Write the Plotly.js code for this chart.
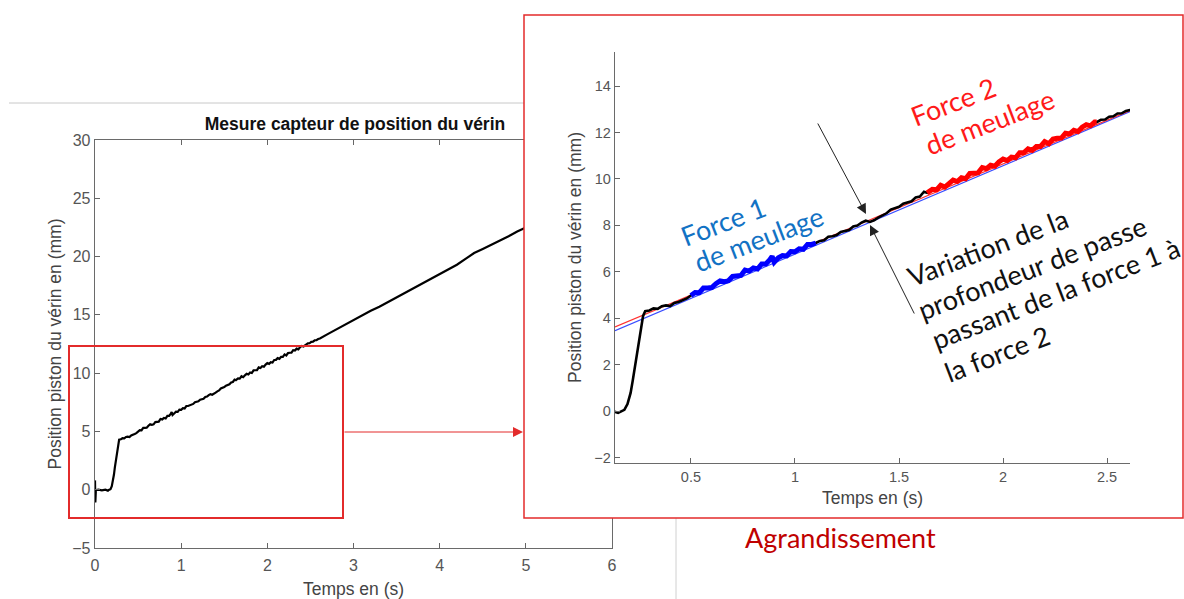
<!DOCTYPE html>
<html>
<head>
<meta charset="utf-8">
<script src="https://cdn.plot.ly/plotly-3.0.1.min.js"></script>
<style>html,body{margin:0;padding:0;background:#fff;}#chart{width:1184px;height:599px;}</style>
</head>
<body>
<div id="chart"></div>
<script>
const T = [0, 0.004, 0.01, 0.04, 0.08, 0.12, 0.15, 0.165, 0.18, 0.195, 0.21, 0.22, 0.23, 0.24, 0.25, 0.26, 0.27, 0.28,
  0.30, 0.32, 0.34, 0.36, 0.38, 0.40, 0.42, 0.44, 0.46, 0.48, 0.50,
  0.52, 0.54, 0.56, 0.58, 0.60, 0.62, 0.64, 0.66, 0.68, 0.70, 0.72, 0.74, 0.76, 0.78, 0.80, 0.82, 0.84, 0.86, 0.88, 0.89, 0.90,
  0.92, 0.94, 0.96, 0.98, 1.00, 1.02, 1.04, 1.06, 1.08, 1.10,
  1.12, 1.14, 1.16, 1.18, 1.20, 1.22, 1.24, 1.26, 1.28, 1.30, 1.32, 1.34, 1.36, 1.38, 1.40, 1.42, 1.44, 1.46, 1.48, 1.50,
  1.52, 1.54, 1.56, 1.58, 1.60, 1.62, 1.635,
  1.66, 1.68, 1.70, 1.72, 1.74, 1.76, 1.78, 1.80, 1.82, 1.84, 1.86, 1.88, 1.90, 1.92, 1.94, 1.96, 1.98, 2.00,
  2.02, 2.04, 2.06, 2.08, 2.10, 2.12, 2.14, 2.16, 2.18, 2.20, 2.22, 2.24, 2.26, 2.28, 2.30, 2.32, 2.34, 2.36, 2.38, 2.40,
  2.42, 2.44, 2.45, 2.47, 2.49, 2.51, 2.53, 2.55, 2.57, 2.59, 2.61,
  2.7, 2.8, 2.9, 3.0, 3.1, 3.2, 3.3, 3.4, 3.5, 3.6, 3.7, 3.8, 3.9, 4.0, 4.1, 4.2, 4.3, 4.4, 4.5, 4.6, 4.7, 4.8, 4.9, 5.0];
const V = [0.8, -1.1, -0.05, 0.0, -0.05, 0.0, -0.08, 0.0, 0.05, 0.3, 0.78, 1.3, 1.9, 2.45, 3.0, 3.55, 4.1, 4.3,
  4.33, 4.42, 4.40, 4.52, 4.55, 4.52, 4.66, 4.70, 4.78, 4.85, 4.98,
  5.11, 5.10, 5.30, 5.30, 5.32, 5.49, 5.61, 5.57, 5.61, 5.80, 5.84, 5.84, 6.07, 6.03, 6.16, 6.12, 6.34, 6.34, 6.53, 6.66, 6.41,
  6.60, 6.70, 6.68, 6.87, 6.86, 6.99, 6.97, 7.18, 7.18, 7.24,
  7.33, 7.36, 7.51, 7.53, 7.58, 7.72, 7.76, 7.80, 7.95, 7.99, 8.12, 8.20, 8.15, 8.22, 8.33, 8.44, 8.52, 8.68, 8.74, 8.80,
  8.93, 9.00, 9.04, 9.20, 9.24, 9.45, 9.40,
  9.55, 9.53, 9.73, 9.65, 9.81, 9.95, 9.89, 10.05, 10.01, 10.24, 10.25, 10.26, 10.49, 10.44, 10.59, 10.55, 10.73, 10.86,
  10.79, 10.94, 10.91, 11.13, 11.14, 11.30, 11.23, 11.40, 11.40, 11.61, 11.52, 11.72, 11.75, 11.76, 11.97, 11.94, 12.10, 12.04, 12.23, 12.34,
  12.29, 12.45, 12.45, 12.55, 12.56, 12.68, 12.70, 12.82, 12.83, 12.93, 12.97,
  13.35, 13.75, 14.2, 14.6, 14.95, 15.35, 15.7, 16.1, 16.5, 16.85, 17.3, 17.65, 18.05, 18.45, 18.85, 19.3, 19.8, 20.3, 20.65, 21.0, 21.4, 21.75, 22.15, 22.5];

// Grinding phases (s)
const FORCE1 = [0.50, 1.10];
const FORCE2 = [1.635, 2.45];

// Fitted lines of the two phases
const FIT_T = [0.135, 2.61];
const FIT_FORCE1 = [3.46, 12.90];
const FIT_FORCE2 = [3.62, 12.95];

// Axes
const X_MAIN = [0, 6], Y_MAIN = [-5, 30];
const X_ZOOM = [0.135, 2.61], Y_ZOOM = [-2.24, 15.47];

// Texts
const TITLE = 'Mesure capteur de position du vérin';
const X_TITLE = 'Temps en (s)';
const Y_TITLE = 'Position piston du vérin en (mm)';
const LABEL_F1 = ['Force 1', 'de meulage'];
const LABEL_F2 = ['Force 2', 'de meulage'];
const LABEL_VAR = ['Variation de la', 'profondeur de passe', 'passant de la force 1 à', 'la force 2'];
const LABEL_ZOOM = 'Agrandissement';

const W = 1184, H = 599;
const px = x => x / W;
const py = y => 1 - y / H;

function segment(range) {
  const xs = [], ys = [];
  for (let i = 0; i < T.length; i++) {
    if (T[i] >= range[0] - 1e-9 && T[i] <= range[1] + 1e-9) { xs.push(T[i]); ys.push(V[i]); }
  }
  return {xs, ys};
}
const s1 = segment(FORCE1), s2 = segment(FORCE2);

const AX_FONT = 'Liberation Sans, Arial, sans-serif';
const TXT_FONT = 'Lato, Carlito, Open Sans, sans-serif';
const axisCommon = {
  ticks: 'inside', ticklen: 5, tickwidth: 1, tickcolor: '#666',
  showline: true, linecolor: '#6a6a6a', linewidth: 1.3,
  showgrid: false, zeroline: false,
  tickfont: {family: AX_FONT, size: 16, color: '#555'}
};

const traces = [
  {x: T, y: V, xaxis: 'x', yaxis: 'y', mode: 'lines', line: {color: '#000', width: 2.2}, hoverinfo: 'skip'},
  {x: FIT_T, y: FIT_FORCE1, xaxis: 'x3', yaxis: 'y3', mode: 'lines', line: {color: '#3a4dff', width: 1.2}, hoverinfo: 'skip'},
  {x: FIT_T, y: FIT_FORCE2, xaxis: 'x3', yaxis: 'y3', mode: 'lines', line: {color: '#ff3030', width: 1.2}, hoverinfo: 'skip'},
  {x: T, y: V, xaxis: 'x3', yaxis: 'y3', mode: 'lines', line: {color: '#000', width: 2.6}, hoverinfo: 'skip'},
  {x: s1.xs, y: s1.ys, xaxis: 'x3', yaxis: 'y3', mode: 'lines', line: {color: '#0000ff', width: 5}, hoverinfo: 'skip'},
  {x: s2.xs, y: s2.ys, xaxis: 'x3', yaxis: 'y3', mode: 'lines', line: {color: '#ff0000', width: 5}, hoverinfo: 'skip'}
];

function rotLines(lines, centers, color) {
  return lines.map((t, i) => ({
    xref: 'paper', yref: 'paper', x: px(centers[i][0]), y: py(centers[i][1]),
    xanchor: 'center', yanchor: 'middle', text: t, showarrow: false, textangle: -21,
    font: {family: TXT_FONT, size: 27, color: color}
  }));
}

const annotations = [].concat(
  rotLines(LABEL_F1, [[723, 221], [759, 239]], '#1272c4'),
  rotLines(LABEL_F2, [[953, 101], [990, 122]], '#ff1a1a'),
  rotLines(LABEL_VAR, [[987, 247], [1032, 267], [1055, 293], [997, 353]], '#111'),
  [
    {xref: 'paper', yref: 'paper', x: px(840), y: py(537), text: LABEL_ZOOM, showarrow: false,
     xanchor: 'center', yanchor: 'middle', font: {family: TXT_FONT, size: 27, color: '#c00000'}},
    {xref: 'paper', yref: 'paper', x: px(523), y: py(432), ax: -180, ay: 0, text: '', showarrow: true,
     arrowhead: 2, arrowsize: 2, arrowwidth: 1, arrowcolor: '#e32b2b'},
    {xref: 'paper', yref: 'paper', x: px(866), y: py(214), ax: -49, ay: -92, text: '', showarrow: true,
     arrowhead: 2, arrowsize: 2, arrowwidth: 1, arrowcolor: '#222'},
    {xref: 'paper', yref: 'paper', x: px(870), y: py(225), ax: 45, ay: 90, text: '', showarrow: true,
     arrowhead: 2, arrowsize: 2, arrowwidth: 1, arrowcolor: '#222'}
  ]
);

const shapes = [
  {type: 'line', xref: 'paper', yref: 'paper', x0: px(9), x1: px(524), y0: py(103), y1: py(103), line: {color: '#c8c8c8', width: 1}, layer: 'below'},
  {type: 'line', xref: 'paper', yref: 'paper', x0: px(676), x1: px(676), y0: py(518), y1: 0, line: {color: '#d0d0d0', width: 1}, layer: 'below'},
  {type: 'rect', xref: 'x2', yref: 'y2', x0: 0, x1: 1, y0: 0, y1: 1, fillcolor: '#ffffff', line: {width: 0}, layer: 'below'},
  {type: 'rect', xref: 'paper', yref: 'paper', x0: px(524), x1: px(1183), y0: py(518), y1: py(15), line: {color: '#e32b2b', width: 1.5}, layer: 'above'},
  {type: 'rect', xref: 'paper', yref: 'paper', x0: px(69), x1: px(343), y0: py(518), y1: py(346), line: {color: '#e32b2b', width: 2}, layer: 'above'}
];

const layout = {
  width: W, height: H, margin: {l: 0, r: 0, t: 0, b: 0},
  paper_bgcolor: '#fff', plot_bgcolor: 'rgba(0,0,0,0)', showlegend: false,
  title: {text: '<b>' + TITLE + '</b>', xref: 'paper', yref: 'paper', x: px(355), xanchor: 'center', y: py(124), yanchor: 'middle',
          font: {family: AX_FONT, size: 17.5, color: '#111'}},
  xaxis: Object.assign({}, axisCommon, {domain: [px(95), px(612)], range: X_MAIN, anchor: 'y', tick0: 0, dtick: 1, mirror: 'ticks',
          ticklabelstandoff: 2,
          title: {text: X_TITLE, font: {family: AX_FONT, size: 17.5, color: '#444'}, standoff: 10}}),
  yaxis: Object.assign({}, axisCommon, {domain: [py(548), py(140)], range: Y_MAIN, anchor: 'x', tick0: 0, dtick: 5, mirror: 'ticks',
          title: {text: Y_TITLE, font: {family: AX_FONT, size: 17.5, color: '#444'}, standoff: 6}}),
  xaxis2: {domain: [px(524), px(1183)], range: [0, 1], anchor: 'y2', visible: false, fixedrange: true},
  yaxis2: {domain: [py(518), py(15)], range: [0, 1], anchor: 'x2', visible: false, fixedrange: true},
  xaxis3: Object.assign({}, axisCommon, {domain: [px(615), px(1130)], range: X_ZOOM, anchor: 'y3', tick0: 0, dtick: 0.5,
          tickfont: {family: AX_FONT, size: 14.5, color: '#555'},
          title: {text: X_TITLE, font: {family: AX_FONT, size: 17.5, color: '#444'}, standoff: 8}}),
  yaxis3: Object.assign({}, axisCommon, {domain: [py(463), py(52)], range: Y_ZOOM, anchor: 'x3', tick0: 0, dtick: 2,
          tickfont: {family: AX_FONT, size: 14.5, color: '#555'},
          title: {text: Y_TITLE, font: {family: AX_FONT, size: 17.5, color: '#444'}, standoff: 8}}),
  shapes: shapes,
  annotations: annotations
};

Plotly.newPlot('chart', traces, layout, {staticPlot: true, displayModeBar: false});
</script>
</body>
</html>
